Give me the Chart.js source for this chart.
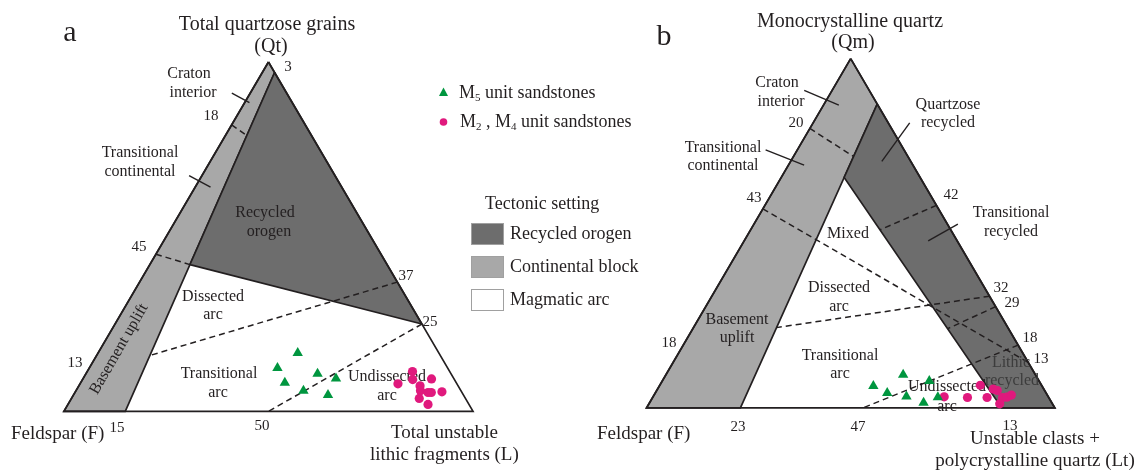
<!DOCTYPE html>
<html>
<head>
<meta charset="utf-8">
<script src="https://cdn.jsdelivr.net/npm/chart.js@4.4.0/dist/chart.umd.min.js"></script>
<style>
    html, body { margin: 0; padding: 0; background: #fff; }
    #wrap { width: 1142px; height: 470px; }
</style>
</head>
<body>
<div id="wrap"><canvas id="chart" width="1142" height="470"></canvas></div>
<script>
// all ternary values are [Q, F, L] in percent (diagram b: [Qm, F, Lt])
const qflM5 = [[16.7, 34.5, 48.8], [12.4, 41.6, 46.0], [8.2, 41.9, 49.9], [10.8, 32.6, 56.6],
    [9.4, 28.8, 61.8], [5.9, 38.5, 55.6], [4.7, 33.1, 62.2]];
const qflM24 = [[7.9, 14.4, 77.7], [11.4, 9.1, 79.5], [9.1, 10.2, 80.7], [7.3, 9.3, 83.4],
    [9.3, 5.5, 85.2], [5.9, 9.9, 84.2], [5.4, 8.3, 86.3], [5.4, 7.5, 87.1], [5.6, 4.8, 89.6],
    [3.7, 11.3, 85.0], [2.0, 10.0, 88.0]];
const qmfltM5 = [[6.3, 41.3, 52.4], [9.5, 32.4, 58.1], [4.3, 38.9, 56.8], [3.3, 34.7, 62.0],
    [7.7, 26.9, 65.4], [1.5, 31.4, 67.1], [3.1, 27.1, 69.8]];
const qmfltM24 = [[3.2, 25.5, 71.3], [3.0, 19.9, 77.1], [6.5, 15.0, 78.5], [3.0, 15.1, 81.9],
    [5.4, 12.4, 82.2], [5.0, 11.6, 83.4], [3.0, 11.3, 85.7], [3.1, 10.2, 86.7], [3.7, 8.8, 87.5],
    [1.2, 12.9, 85.9]];

// Dickinson fields, QFL
const frame = [[100, 0, 0], [0, 0, 100], [0, 100, 0]];
const qflContinental = [[100, 0, 0], [97, 0, 3], [0, 85, 15], [0, 100, 0]];
const qflRecycled = [[97, 0, 3], [25, 0, 75], [42, 48.2, 9.8]];
const qflDashed = [
    [[82, 18, 0], [79, 15.8, 5.2]],
    [[45, 55, 0], [42, 48.2, 9.8]],
    [[37, 0, 63], [16, 71, 13]],
    [[25, 0, 75], [0, 50, 50]]
];
const qflLeaders = [
    [[91.1, 13.4, -4.5], [88.4, 10.45, 1.15]],
    [[67.5, 35.65, -3.15], [64.2, 32.06, 3.74]]
];

// Dickinson fields, QmFLt
const qmfltContinental = [[100, 0, 0], [87, 0, 13], [0, 77, 23], [0, 100, 0]];
const qmfltRecycled = [[87, 0, 13], [0, 0, 100], [0, 13, 87], [66, 18.6, 15.4]];
const qmfltDashed = [
    [[80, 20, 0], [72, 13.3, 14.7]],
    [[57, 43, 0], [13, 0, 87]],
    [[58, 0, 42], [51, 17.3, 31.7]],
    [[32, 0, 68], [23, 56.7, 20.3]],
    [[29, 0, 71], [22.7, 14.9, 62.4]],
    [[18, 0, 82], [0, 47, 53]]
];
const qmfltLeaders = [
    [[90.9, 15.93, -6.83], [86.7, 9.55, 3.75]],
    [[73.9, 33.88, -7.78], [69.5, 26.65, 3.85]],
    [[70.6, 7.08, 22.32], [81.6, -5.25, 23.65]],
    [[47.8, 7.12, 45.08], [52.6, -2.55, 49.95]]
];

const W = 1142, H = 470;
const INK = '#231f20';
const DARK = '#6d6d6d';
const LIGHT = '#a8a8a8';
const GREEN = '#00963f';
const PINK = '#e0197d';
const FONT = '"Liberation Serif", "Times New Roman", serif';

// where each triangle sits on the canvas (corner pixels)
const placeA = { left: 58.5, right: 472, base: 416, top: 57.5 };
const placeB = { left: 647.3, right: 1060, base: 412.5, top: 54 };

function ranges(p) {
    const ux = (p.right - p.left) / 100;
    const uy = (p.base - p.top) / (50 * Math.sqrt(3));
    return {
        x: { min: -p.left / ux, max: (W - p.left) / ux },
        y: { min: -(H - p.base) / uy, max: p.base / uy }
    };
}

function tern(p) {
    return { x: p[2] + p[0] / 2, y: p[0] * Math.sqrt(3) / 2 };
}

function polygon(pts, side, color, order) {
    return {
        type: 'line',
        data: pts.concat([pts[0]]).map(tern),
        xAxisID: 'x' + side, yAxisID: 'y' + side,
        borderColor: INK, borderWidth: 1.7,
        backgroundColor: color, fill: color ? 'shape' : false,
        pointRadius: 0, tension: 0, order: order
    };
}

function segment(pts, side, dash, order) {
    return {
        type: 'line',
        data: pts.map(tern),
        xAxisID: 'x' + side, yAxisID: 'y' + side,
        borderColor: INK, borderWidth: dash ? 1.5 : 1.4,
        borderDash: dash || [],
        fill: false, pointRadius: 0, tension: 0, order: order
    };
}

function samples(pts, side, style, color, radius) {
    return {
        type: 'scatter',
        data: pts.map(tern),
        xAxisID: 'x' + side, yAxisID: 'y' + side,
        pointStyle: style, pointRadius: radius,
        backgroundColor: color, borderColor: color, borderWidth: 0,
        order: 0
    };
}

const datasets = [];
datasets.push(polygon(qflContinental, 'a', LIGHT, 10));
datasets.push(polygon(qflRecycled, 'a', DARK, 9));
datasets.push(polygon(frame, 'a', null, 8));
qflDashed.forEach(d => datasets.push(segment(d, 'a', [6, 4], 5)));
qflLeaders.forEach(d => datasets.push(segment(d, 'a', null, 5)));
datasets.push(polygon(qmfltContinental, 'b', LIGHT, 10));
datasets.push(polygon(qmfltRecycled, 'b', DARK, 9));
datasets.push(polygon(frame, 'b', null, 8));
qmfltDashed.forEach(d => datasets.push(segment(d, 'b', [6, 4], 5)));
qmfltLeaders.forEach(d => datasets.push(segment(d, 'b', null, 5)));
// labels go under the sample markers
datasets.push(Object.assign(segment([[0, 0, 0], [0, 0, 0]], 'a', null, 1), { textLayer: true, borderWidth: 0 }));
datasets.push(samples(qflM5, 'a', 'triangle', GREEN, 6));
datasets.push(samples(qflM24, 'a', 'circle', PINK, 4.6));
datasets.push(samples(qmfltM5, 'b', 'triangle', GREEN, 6));
datasets.push(samples(qmfltM24, 'b', 'circle', PINK, 4.6));

const labelsA = [
    ['a', 70, 33, 30],
    ['Total quartzose grains', 267, 25, 20],
    ['(Qt)', 271, 47, 20],
    ['3', 288, 67, 15],
    ['Craton', 189, 74, 16], ['interior', 193, 93, 16],
    ['18', 211, 116, 15],
    ['Transitional', 140, 153, 16], ['continental', 140, 172, 16],
    ['Recycled', 265, 213, 16], ['orogen', 269, 232, 16],
    ['45', 139, 247, 15],
    ['37', 406, 276, 15],
    ['Dissected', 213, 297, 16], ['arc', 213, 315, 16],
    ['25', 430, 322, 15],
    ['13', 75, 363, 15],
    ['Transitional', 219, 374, 16], ['arc', 218, 393, 16],
    ['Undissected', 387, 377, 16], ['arc', 387, 396, 16],
    ['15', 117, 428, 15],
    ['50', 262, 426, 15],
    ['Feldspar (F)', 11, 434, 19, 'left'],
    ['Total unstable', 391, 433, 19, 'left'],
    ['lithic fragments (L)', 370, 455, 19, 'left']
];
const labelsB = [
    ['b', 664, 37, 30],
    ['Monocrystalline quartz', 850, 22, 20],
    ['(Qm)', 853, 43, 20],
    ['Craton', 777, 83, 16], ['interior', 781, 102, 16],
    ['Quartzose', 948, 105, 16], ['recycled', 948, 123, 16],
    ['20', 796, 123, 15],
    ['Transitional', 723, 148, 16], ['continental', 723, 166, 16],
    ['43', 754, 198, 15],
    ['42', 951, 195, 15],
    ['Transitional', 1011, 213, 16], ['recycled', 1011, 232, 16],
    ['Mixed', 848, 234, 16],
    ['Dissected', 839, 288, 16], ['arc', 839, 307, 16],
    ['32', 1001, 288, 15], ['29', 1012, 303, 15],
    ['Basement', 737, 320, 16], ['uplift', 737, 338, 16],
    ['18', 669, 343, 15],
    ['18', 1030, 338, 15],
    ['13', 1041, 359, 15],
    ['Transitional', 840, 356, 16], ['arc', 840, 374, 16],
    ['Lithic', 1011, 363, 16, 'center', '#3c3c3c'], ['recycled', 1012, 381, 16, 'center', '#3c3c3c'],
    ['Undissected', 947, 387, 16], ['arc', 947, 407, 16],
    ['23', 738, 427, 15], ['47', 858, 427, 15], ['13', 1010, 426, 15],
    ['Feldspar (F)', 597, 434, 19, 'left'],
    ['Unstable clasts +', 1035, 439, 19], ['polycrystalline quartz (Lt)', 1035, 461, 19]
];

function put(ctx, text, x, y, size, align, color, rot) {
    ctx.save();
    ctx.font = size + 'px ' + FONT;
    ctx.fillStyle = color || INK;
    ctx.textAlign = align || 'center';
    ctx.textBaseline = 'middle';
    ctx.translate(x, y);
    if (rot) ctx.rotate(rot * Math.PI / 180);
    ctx.fillText(text, 0, 0);
    ctx.restore();
}

// text with small subscript pieces
function putRich(ctx, parts, x, y) {
    ctx.save();
    ctx.fillStyle = INK;
    ctx.textBaseline = 'middle';
    ctx.textAlign = 'left';
    parts.forEach(p => {
        ctx.font = (p.sub ? 11 : 18) + 'px ' + FONT;
        ctx.fillText(p.t, x, y + (p.sub ? 5 : 0));
        x += ctx.measureText(p.t).width;
    });
    ctx.restore();
}

const textPlugin = {
    id: 'ternaryText',
    afterDatasetDraw(chart, args) {
        if (!chart.data.datasets[args.index].textLayer) return;
        const ctx = chart.ctx;
        labelsA.concat(labelsB).forEach(l => put(ctx, l[0], l[1], l[2], l[3], l[4], l[5]));
        put(ctx, 'Basement uplift', 119, 349, 16, 'center', INK, -60);
    },
    afterDraw(chart) {
        const ctx = chart.ctx;
        // sample legend
        ctx.save();
        ctx.fillStyle = GREEN;
        ctx.beginPath();
        ctx.moveTo(443.5, 87.5);
        ctx.lineTo(448, 96);
        ctx.lineTo(439, 96);
        ctx.closePath();
        ctx.fill();
        ctx.fillStyle = PINK;
        ctx.beginPath();
        ctx.arc(443.5, 122, 3.8, 0, Math.PI * 2);
        ctx.fill();
        ctx.restore();
        putRich(ctx, [{ t: 'M' }, { t: '5', sub: true }, { t: ' unit sandstones' }], 459, 93);
        putRich(ctx, [{ t: 'M' }, { t: '2', sub: true }, { t: ' , M' }, { t: '4', sub: true }, { t: ' unit sandstones' }], 460, 122);

        // tectonic setting legend
        put(ctx, 'Tectonic setting', 485, 204, 18, 'left');
        const boxes = [[DARK, 'Recycled orogen', 234], [LIGHT, 'Continental block', 267], ['#ffffff', 'Magmatic arc', 300]];
        boxes.forEach(b => {
            ctx.save();
            ctx.fillStyle = b[0];
            ctx.fillRect(471, b[2] - 11, 33, 22);
            ctx.strokeStyle = '#a0a0a0';
            ctx.lineWidth = 1;
            ctx.strokeRect(471.5, b[2] - 10.5, 32, 21);
            ctx.restore();
            put(ctx, b[1], 510, b[2], 18, 'left');
        });
    }
};

const ra = ranges(placeA);
const rb = ranges(placeB);
const hidden = { type: 'linear', display: false };

new Chart(document.getElementById('chart'), {
    type: 'scatter',
    data: { datasets: datasets },
    options: {
        responsive: false,
        animation: false,
        events: [],
        layout: { padding: 0 },
        plugins: { legend: { display: false }, tooltip: { enabled: false } },
        scales: {
            xa: Object.assign({ axis: 'x' }, hidden, ra.x),
            ya: Object.assign({ axis: 'y' }, hidden, ra.y),
            xb: Object.assign({ axis: 'x' }, hidden, rb.x),
            yb: Object.assign({ axis: 'y' }, hidden, rb.y)
        }
    },
    plugins: [textPlugin]
});
</script>
</body>
</html>
